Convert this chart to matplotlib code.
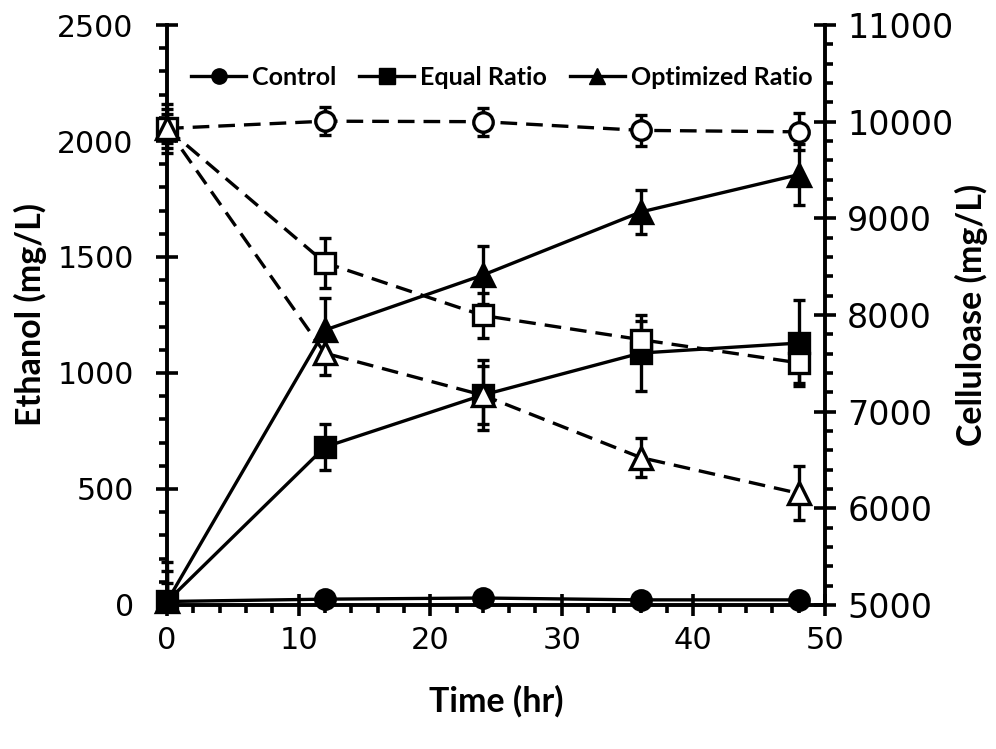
import numpy as np
import matplotlib
matplotlib.use("Agg")
import matplotlib.pyplot as plt
from matplotlib.ticker import MultipleLocator
from matplotlib.lines import Line2D

# sampling times (hr)
time_hr = [0, 12, 24, 36, 48]

# ethanol (mg/L), left axis
eth_control = [15, 25, 30, 22, 22]
eth_control_err = [78, 10, 10, 10, 10]
eth_equal = [15, 681, 905, 1086, 1129]
eth_equal_err = [130, 100, 150, 165, 185]
eth_optim = [15, 1185, 1422, 1694, 1855]
eth_optim_err = [170, 138, 125, 95, 130]

# cellulose (mg/L), right axis
cel_control = [9930, 10005, 10000, 9910, 9895]
cel_control_err = [150, 145, 145, 160, 190]
cel_equal = [9930, 8540, 7995, 7745, 7505]
cel_equal_err = [250, 260, 230, 195, 210]
cel_optim = [9930, 7605, 7170, 6525, 6155]
cel_optim_err = [200, 230, 300, 205, 280]

series_names = ["Control", "Equal Ratio", "Optimized Ratio"]
series_markers = ["o", "s", "^"]
marker_sizes = [14, 15, 16]

LABEL_FONT = "Lato"
TICK_FONT = "DejaVu Sans"

fig = plt.figure(figsize=(9.96, 7.49), dpi=100)
ax1 = fig.add_axes([0.1677, 0.1923, 0.6606, 0.7743])
ax2 = ax1.twinx()

lw = 2.4
dash = (0, (5, 2.7))
eb = dict(ecolor="black", elinewidth=2.4, capsize=4.5, capthick=2.4)

eth = [(eth_control, eth_control_err), (eth_equal, eth_equal_err), (eth_optim, eth_optim_err)]
cel = [(cel_control, cel_control_err), (cel_equal, cel_equal_err), (cel_optim, cel_optim_err)]


def draw(ax, data, ymin, filled, ls):
    for (vals, err), mk, ms in zip(data, series_markers, marker_sizes):
        vals = np.array(vals, float)
        err = np.array(err, float)
        # lower bars stop at the plot edge, like the original
        lower = np.minimum(err, vals - ymin)
        ax.errorbar(time_hr, vals, yerr=[lower, err], fmt="none", zorder=2, clip_on=False, **eb)
        ax.plot(time_hr, vals, color="black", lw=lw, ls=ls, marker=mk, ms=ms,
                mfc="black" if filled else "white", mec="black", mew=2.4,
                clip_on=False, zorder=3)


draw(ax1, eth, 0, True, "-")
draw(ax2, cel, 5000, False, dash)

ax1.set_xlim(0, 50)
ax1.set_ylim(0, 2500)
ax2.set_ylim(5000, 11000)

ax1.xaxis.set_major_locator(MultipleLocator(10))
ax1.xaxis.set_minor_locator(MultipleLocator(2))
ax1.yaxis.set_major_locator(MultipleLocator(500))
ax1.yaxis.set_minor_locator(MultipleLocator(100))
ax2.yaxis.set_major_locator(MultipleLocator(1000))
ax2.yaxis.set_minor_locator(MultipleLocator(200))

for ax in (ax1, ax2):
    ax.spines["top"].set_visible(False)
    for s in ("left", "right", "bottom"):
        ax.spines[s].set_linewidth(2.8)
    ax.tick_params(which="major", direction="inout", length=16, width=2.6)
    ax.tick_params(which="minor", direction="out", length=6, width=2.6)
ax1.spines["right"].set_visible(False)
ax2.spines["left"].set_visible(False)
ax2.spines["bottom"].set_visible(False)

ax1.tick_params(axis="x", labelsize=22, pad=7)
ax1.tick_params(axis="y", labelsize=21.5, pad=16)
ax2.tick_params(axis="y", labelsize=24, pad=8)

for lab in ax1.get_xticklabels() + ax1.get_yticklabels() + ax2.get_yticklabels():
    lab.set_fontfamily(TICK_FONT)

lab_kw = dict(fontfamily=LABEL_FONT, fontweight="bold", fontsize=24.5)
ax1.set_xlabel("Time (hr)", **lab_kw)
ax1.set_ylabel("Ethanol (mg/L)", **lab_kw)
ax2.set_ylabel("Celluloase (mg/L)", **lab_kw)
ax1.xaxis.set_label_coords(0.5, -0.138)
ax1.yaxis.set_label_coords(-0.182, 0.5)
ax2.yaxis.set_label_coords(1.198, 0.5)

handles = [Line2D([], [], color="black", lw=lw, marker=mk, ms=11, mfc="black", mec="black")
           for mk in series_markers]
ax1.legend(handles, series_names, loc="center", bbox_to_anchor=(0.509, 0.91), ncol=3,
           frameon=False, handlelength=2.2, columnspacing=0.9, handletextpad=0.25,
           borderaxespad=0, borderpad=0,
           prop={"family": LABEL_FONT, "weight": "bold", "size": 18})

fig.savefig("out.png", dpi=100)
